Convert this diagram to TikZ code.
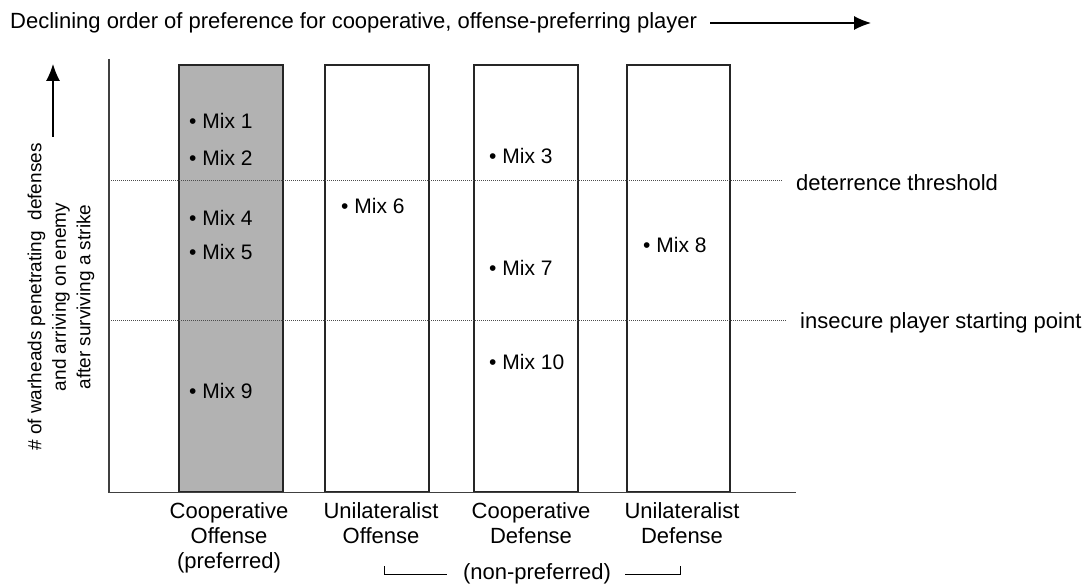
\documentclass[tikz,border=0pt]{standalone}
\usepackage{fontspec}
\setmainfont{Liberation Sans}
\usetikzlibrary{arrows.meta}
\begin{document}
\begin{tikzpicture}[x=1pt,y=-1pt,
  every node/.style={font=\fontsize{22}{25}\selectfont, inner sep=0pt},
  bar/.style={draw=black!85, line width=1.4pt},
  axisline/.style={draw=black!75, line width=1.6pt},
  thresh/.style={draw=black!70, line width=0.8pt, dash pattern=on 1pt off 1pt},
  mix/.style={anchor=west, font=\fontsize{21}{25}\selectfont},
  lbl/.style={align=center, anchor=north},
  arr/.style={line width=1.2pt, -{Latex[length=17pt,width=14pt]}},
  brk/.style={line width=1pt}
]
\useasboundingbox (0,0) rectangle (1086,588);
% title and arrow
\node[anchor=west] (title) at (10,23) {Declining order of preference for cooperative, offense-preferring player};
\coordinate (ta) at (710,23);
\coordinate (tb) at (871,23);
\draw[arr] (ta) -- (tb);
% y arrow
\coordinate (ya) at (53,137);
\coordinate (yb) at (53,64);
\draw[arr] (ya) -- (yb);
% y label
\node[rotate=90, align=center, font=\fontsize{19}{24.5}\selectfont] (ylab) at (61,297) {\# of warheads penetrating \ defenses\\and arriving on enemy\\after surviving a strike};
% bars
\draw[bar, fill=black!30] (179,65) rectangle (283,492);
\draw[bar] (325,65) rectangle (429,492);
\draw[bar] (474,65) rectangle (578,492);
\draw[bar] (627,65) rectangle (730,492);
% thresholds
\coordinate (d0) at (109,180.5);
\coordinate (d1) at (783,180.5);
\coordinate (i0) at (109,320);
\coordinate (i1) at (786,320);
\draw[thresh] (d0) -- (d1);
\draw[thresh] (i0) -- (i1);
\node[anchor=west] (dt) at (796,183) {deterrence threshold};
\node[anchor=west] (ip) at (800,323) {insecure player starting point};
% axes
\coordinate (o) at (109,492.5);
\coordinate (yt) at (109,59);
\coordinate (xe) at (796,492.5);
\draw[axisline] (yt) -- (o) -- (xe);
% mixes
\node[mix] (m1) at (189,121) {• Mix 1};
\node[mix] (m2) at (189,158) {• Mix 2};
\node[mix] (m4) at (189,218) {• Mix 4};
\node[mix] (m5) at (189,252) {• Mix 5};
\node[mix] (m9) at (189,391) {• Mix 9};
\node[mix] (m6) at (341,206) {• Mix 6};
\node[mix] (m3) at (489,156) {• Mix 3};
\node[mix] (m7) at (489,268) {• Mix 7};
\node[mix] (m10) at (489,362) {• Mix 10};
\node[mix] (m8) at (643,245) {• Mix 8};
% bottom labels
\node[lbl] (l1) at (229,502) {Cooperative\\Offense\\(preferred)};
\node[lbl] (l2) at (381,502) {Unilateralist\\Offense};
\node[lbl] (l3) at (531,502) {Cooperative\\Defense};
\node[lbl] (l4) at (682,502) {Unilateralist\\Defense};
\node (np) at (537,574) {(non-preferred)};
\coordinate (bl) at (384,566);
\coordinate (br) at (680,566);
\draw[brk] (bl) |- ([xshift=-16pt]np.west);
\draw[brk] (br) |- ([xshift=14pt]np.east);
\end{tikzpicture}
\end{document}
